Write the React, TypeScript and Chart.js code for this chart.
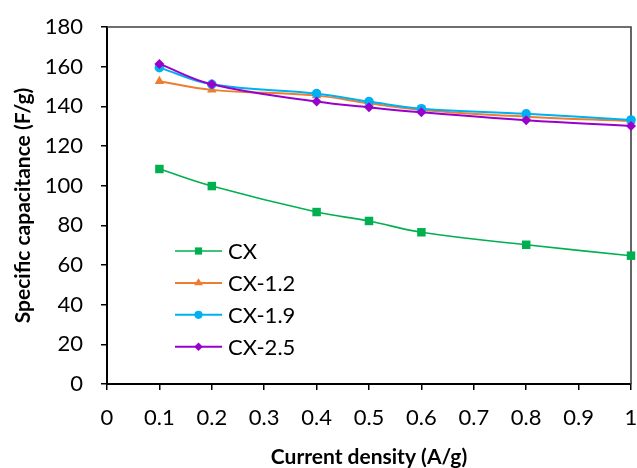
import React, { useEffect, useRef } from "react";
import { Chart, registerables } from "chart.js";

Chart.register(...registerables);

const xValues = [0.1, 0.2, 0.4, 0.5, 0.6, 0.8, 1.0];
const seriesNames = ["CX", "CX-1.2", "CX-1.9", "CX-2.5"];
const cxValues = [108.4, 99.8, 86.7, 82.2, 76.5, 70.2, 64.7];
const cx12Values = [152.6, 148.3, 145.4, 141.5, 138.2, 134.8, 132.6];
const cx19Values = [159.5, 151.1, 146.4, 142.4, 138.8, 136.2, 133.1];
const cx25Values = [161.4, 151.1, 142.4, 139.5, 137.0, 133.0, 130.1];
const xTickLabels = ["0", "0.1", "0.2", "0.3", "0.4", "0.5", "0.6", "0.7", "0.8", "0.9", "1"];
const yTickLabels = ["0", "20", "40", "60", "80", "100", "120", "140", "160", "180"];

const colors = ["#00B050", "#ED7D31", "#00B0F0", "#9900CC"];
const styles = ["rect", "triangle", "circle", "rectRot"];
const radii = [6, 5.5, 4.8, 5];
const widths = [1.6, 2, 2, 2];

const FONT = "Lato, 'Open Sans', sans-serif";

function drawMarker(ctx: CanvasRenderingContext2D, style: string, x: number, y: number, r: number, color: string) {
  ctx.save();
  ctx.fillStyle = color;
  ctx.beginPath();
  if (style === "rect") {
    const s = Math.SQRT1_2 * r;
    ctx.rect(x - s, y - s, 2 * s, 2 * s);
  } else if (style === "rectRot") {
    ctx.moveTo(x, y - r);
    ctx.lineTo(x + r, y);
    ctx.lineTo(x, y + r);
    ctx.lineTo(x - r, y);
    ctx.closePath();
  } else if (style === "triangle") {
    const h = r * 1.5;
    ctx.moveTo(x, y - r);
    ctx.lineTo(x + r * 0.95, y + h - r);
    ctx.lineTo(x - r * 0.95, y + h - r);
    ctx.closePath();
  } else {
    ctx.arc(x, y, r, 0, Math.PI * 2);
  }
  ctx.fill();
  ctx.restore();
}

const framePlugin = {
  id: "frameLegend",
  beforeDatasetsDraw(chart: any) {
    const { ctx, chartArea: a } = chart;
    ctx.save();
    ctx.strokeStyle = "#404040";
    ctx.lineWidth = 1.6;
    ctx.beginPath();
    ctx.moveTo(a.left, a.top);
    ctx.lineTo(a.right, a.top);
    ctx.lineTo(a.right, a.bottom);
    ctx.stroke();
    ctx.restore();
  },
  afterDraw(chart: any) {
    const { ctx, chartArea: a } = chart;
    const ds = chart.data.datasets;
    ctx.save();
    for (let i = 0; i < ds.length; i++) {
      const y = a.top + 224 + i * 31.9;
      const x0 = a.left + 68;
      const x1 = a.left + 115;
      ctx.strokeStyle = ds[i].borderColor;
      ctx.lineWidth = ds[i].borderWidth;
      ctx.beginPath();
      ctx.moveTo(x0, y);
      ctx.lineTo(x1, y);
      ctx.stroke();
      drawMarker(ctx, ds[i].pointStyle, (x0 + x1) / 2, y, ds[i].pointRadius * 0.85, ds[i].borderColor);
      ctx.fillStyle = "#000";
      ctx.font = `22px ${FONT}`;
      ctx.textBaseline = "middle";
      ctx.textAlign = "left";
      ctx.fillText(ds[i].label, a.left + 121, y + 1);
    }
    ctx.restore();
  },
};

export default function App() {
  const ref = useRef<HTMLCanvasElement>(null);
  useEffect(() => {
    if (!ref.current) return;
    const allValues = [cxValues, cx12Values, cx19Values, cx25Values];
    const chart = new Chart(ref.current, {
      type: "line",
      data: {
        datasets: allValues.map((vals, i) => ({
          label: seriesNames[i],
          data: vals.map((v, j) => ({ x: xValues[j], y: v })),
          borderColor: colors[i],
          backgroundColor: colors[i],
          pointBackgroundColor: colors[i],
          pointBorderColor: colors[i],
          pointStyle: styles[i] as any,
          pointRadius: radii[i],
          pointBorderWidth: 0,
          borderWidth: widths[i],
          tension: 0.4,
          fill: false,
          clip: false as any,
          order: 4 - i,
        })),
      },
      options: {
        responsive: false,
        animation: false,
        layout: { padding: { top: 27, right: 5, left: 0, bottom: 0 } },
        plugins: { legend: { display: false }, tooltip: { enabled: false } },
        scales: {
          x: {
            type: "linear",
            min: 0,
            max: 1,
            afterFit: (s: any) => { s.height = 84; s.paddingRight = 0; s.paddingLeft = 0; },
            ticks: {
              stepSize: 0.1,
              color: "#000",
              padding: 15,
              maxRotation: 0,
              autoSkip: false,
              font: { family: FONT, size: 22 },
              callback: (_v: any, i: number) => xTickLabels[i],
            },
            grid: { display: true, drawOnChartArea: false, drawTicks: true, tickLength: 6, color: "#000", lineWidth: 1.5 },
            border: { display: true, color: "#000", width: 2 },
            title: {
              display: true,
              text: "Current density (A/g)",
              color: "#000",
              font: { family: FONT, size: 21, weight: "bold", lineHeight: 1.0 },
              padding: { top: 0, bottom: 0 },
            },
          },
          y: {
            type: "linear",
            min: 0,
            max: 180,
            afterFit: (s: any) => { s.width = 107; s.paddingTop = 0; s.paddingBottom = 0; },
            ticks: {
              stepSize: 20,
              color: "#000",
              padding: 18,
              font: { family: FONT, size: 22 },
              callback: (_v: any, i: number) => yTickLabels[i],
            },
            grid: { display: true, drawOnChartArea: false, drawTicks: true, tickLength: 6, color: "#000", lineWidth: 1.5 },
            border: { display: true, color: "#000", width: 2 },
            title: {
              display: true,
              text: "Specific capacitance (F/g)",
              color: "#000",
              font: { family: FONT, size: 21, weight: "bold", lineHeight: 1.2 },
              padding: { top: 11, bottom: 0 },
            },
          },
        },
      },
      plugins: [framePlugin],
    });
    return () => chart.destroy();
  }, []);
  return (
    <div style={{ position: "absolute", left: 0, top: 0, width: 637, height: 468, background: "#fff" }}>
      <canvas ref={ref} width={637} height={468} />
    </div>
  );
}
